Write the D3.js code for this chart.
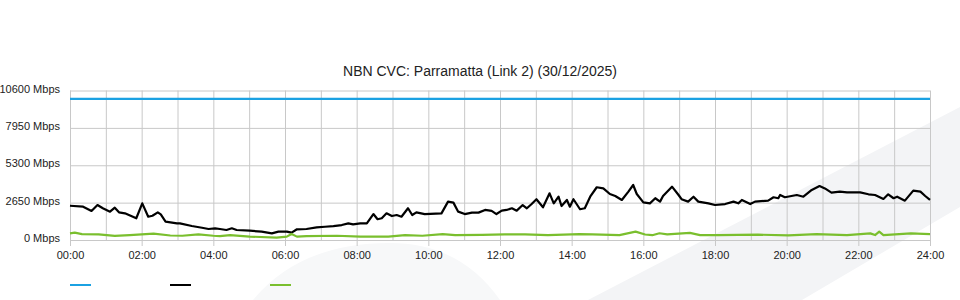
<!DOCTYPE html>
<html>
<head>
<meta charset="utf-8">
<script src="https://cdn.jsdelivr.net/npm/d3@7"></script>
<style>
  body { margin: 0; background: #fff; }
  svg { display: block; font-family: "Liberation Sans", Arial, sans-serif; }
  .axis text { font-size: 11px; fill: #222; }
  .grid line { stroke: #c8c8c8; }
  .grid path { display: none; }
</style>
</head>
<body>
<div id="chart"></div>
<script>
// series (time of day, Mbps)
const capacity = [["00:00", 10000], ["24:00", 10000]];

const trafficIn = [
  ["00:00",2430],["00:22",2360],["00:36",2060],["00:46",2480],["00:55",2250],["01:07",2010],
  ["01:15",2290],["01:22",1960],["01:32",1890],["01:51",1540],["02:01",2600],["02:11",1650],
  ["02:18",1720],["02:27",1960],["02:32",1820],["02:40",1300],["02:59",1180],["03:04",1180],
  ["03:24",990],["03:41",870],["03:52",780],["04:03",830],["04:11",780],["04:22",710],
  ["04:31",830],["04:39",710],["05:01",660],["05:21",590],["05:38",470],["05:49",590],
  ["06:03",590],["06:11",520],["06:20",760],["06:36",780],["06:53",900],["07:07",940],
  ["07:21",990],["07:35",1060],["07:46",1180],["07:54",1110],["08:06",1180],["08:17",1180],
  ["08:28",1840],["08:35",1470],["08:42",1540],["08:50",1890],["08:59",1700],["09:07",1770],
  ["09:15",1650],["09:26",2250],["09:33",1770],["09:40",1960],["09:54",1840],["10:22",1890],
  ["10:33",2720],["10:42",2650],["10:50",2010],["11:01",1840],["11:13",1940],["11:24",1940],
  ["11:35",2130],["11:46",2060],["11:54",1840],["12:03",2080],["12:11",2130],["12:20",2250],
  ["12:28",2080],["12:38",2480],["12:45",2250],["12:53",2550],["13:01",2890],["13:12",2320],
  ["13:23",3310],["13:30",2600],["13:38",3070],["13:43",2410],["13:52",2840],["13:57",2360],
  ["14:03",2890],["14:14",2180],["14:22",2250],["14:31",3070],["14:42",3740],["14:53",3660],
  ["15:04",3260],["15:13",3120],["15:24",2840],["15:35",3430],["15:43",3900],["15:49",3260],
  ["16:00",2670],["16:11",2600],["16:20",2960],["16:28",2720],["16:33",3120],["16:48",3780],
  ["16:59",3190],["17:04",2890],["17:15",2720],["17:24",3070],["17:32",2720],["17:49",2600],
  ["18:00",2480],["18:17",2550],["18:31",2720],["18:39",2600],["18:45",2840],["18:59",2550],
  ["19:07",2720],["19:29",2790],["19:38",3030],["19:46",2960],["19:49",3190],["19:57",3030],
  ["20:17",3190],["20:28",3070],["20:42",3550],["20:55",3830],["21:04",3660],["21:15",3360],
  ["21:29",3430],["21:41",3380],["22:03",3380],["22:17",3240],["22:28",3190],["22:42",2910],
  ["22:50",3240],["22:59",2960],["23:05",3070],["23:18",2790],["23:32",3500],["23:44",3430],
  ["23:52",3120],["24:00",2840]
];

const trafficOut = [
  ["00:00",470],["00:08",520],["00:20",420],["00:48",400],["01:15",290],["01:40",350],
  ["02:20",450],["02:48",320],["03:08",300],["03:35",400],["04:00",300],["04:11",280],
  ["04:28",350],["05:01",240],["05:46",170],["06:03",240],["06:11",430],["06:20",240],
  ["06:36",280],["07:27",300],["08:06",240],["08:53",240],["09:21",350],["09:50",300],
  ["10:24",420],["10:45",350],["11:30",360],["12:08",400],["12:42",400],["13:20",350],
  ["14:13",420],["14:35",400],["15:20",350],["15:47",590],["16:03",390],["16:15",340],
  ["16:27",480],["16:40",400],["17:18",500],["17:35",350],["18:05",350],["19:12",380],
  ["20:03",330],["20:50",420],["21:41",350],["22:20",470],["22:28",350],["22:35",590],
  ["22:42",350],["23:28",470],["24:00",420]
];

const series = [
  {name: "capacity", color: "#1ba1e2", values: capacity},
  {name: "in", color: "#000000", values: trafficIn},
  {name: "out", color: "#7abf2e", values: trafficOut}
];

const yTicks = [0, 2650, 5300, 7950, 10600];
const xLabels = ["00:00","02:00","04:00","06:00","08:00","10:00","12:00",
                 "14:00","16:00","18:00","20:00","22:00","24:00"];
const title = "NBN CVC: Parramatta (Link 2) (30/12/2025)";

const width = 960, height = 300;
const margin = ({top: 90.5, right: 30, bottom: 60, left: 70});

const toMin = t => { const p = t.split(":"); return +p[0] * 60 + +p[1]; };

let x = d3.scaleLinear().domain([0, 1440]).range([margin.left, width - margin.right]);
let y = d3.scaleLinear().domain([0, 10600]).range([height - margin.bottom, margin.top]);

let svg = d3.select("#chart").append("svg")
  .attr("width", width)
  .attr("height", height);

// faint watermark shapes in the background
svg.append("path")
  .attr("d", "M588,300 L960,107 L960,207 L802,300 Z")
  .attr("fill", "#f3f4f6");
svg.append("path")
  .attr("d", "M253,300 Q300,243 390,243 Q460,243 500,300 Z")
  .attr("fill", "#f7f8f9");

// grid
svg.append("g")
  .attr("class", "grid")
  .attr("transform", `translate(0,${y(0)})`)
  .call(d3.axisBottom(x).tickValues(d3.range(0, 1441, 60)).tickSize(-(y(0) - y(10600))).tickFormat(""));

svg.append("g")
  .attr("class", "grid")
  .attr("transform", `translate(${margin.left},0)`)
  .call(d3.axisLeft(y).tickValues(yTicks).tickSize(-(x(1440) - x(0))).tickFormat(""));

// axes
let xAxis = svg.append("g")
  .attr("class", "axis")
  .attr("transform", `translate(0,${y(0)})`)
  .call(d3.axisBottom(x).tickValues(xLabels.map(toMin)).tickSize(6).tickPadding(5)
    .tickFormat((d, i) => xLabels[i]));
xAxis.select(".domain").remove();
xAxis.selectAll("line").attr("stroke", "#c8c8c8");

let yAxis = svg.append("g")
  .attr("class", "axis")
  .attr("transform", `translate(${margin.left},0)`)
  .call(d3.axisLeft(y).tickValues(yTicks).tickSize(0).tickPadding(10)
    .tickFormat(d => d + " Mbps"));
yAxis.select(".domain").remove();
yAxis.selectAll("text").attr("y", -2);

// title
svg.append("text")
  .attr("x", width / 2)
  .attr("y", 76)
  .attr("text-anchor", "middle")
  .attr("font-size", "14px")
  .attr("fill", "#222")
  .text(title);

// lines
let line = d3.line()
  .x(d => x(toMin(d[0])))
  .y(d => y(d[1]));

svg.selectAll("path.series")
  .data(series)
  .enter().append("path")
  .attr("class", "series")
  .attr("fill", "none")
  .attr("stroke", d => d.color)
  .attr("stroke-width", 2.2)
  .attr("stroke-linejoin", "round")
  .attr("d", d => line(d.values));

// legend swatches
svg.selectAll("line.legend")
  .data(series)
  .enter().append("line")
  .attr("class", "legend")
  .attr("x1", (d, i) => margin.left + i * 100)
  .attr("x2", (d, i) => margin.left + 21 + i * 100)
  .attr("y1", 285).attr("y2", 285)
  .attr("stroke", d => d.color)
  .attr("stroke-width", 2);
</script>
</body>
</html>
